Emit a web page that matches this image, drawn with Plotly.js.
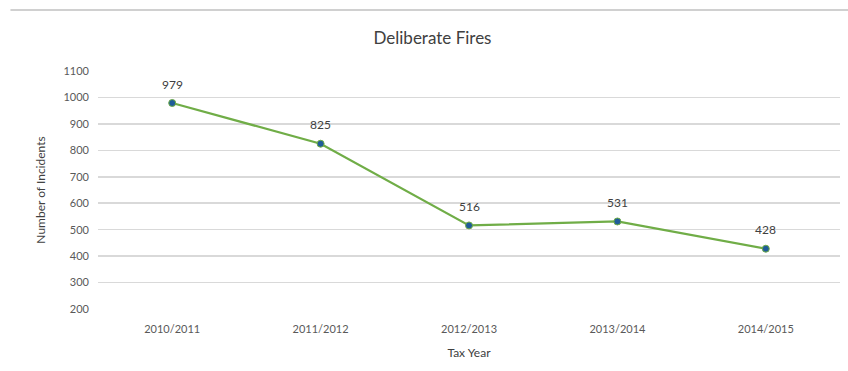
<!DOCTYPE html>
<html>
<head>
<meta charset="utf-8">
<script src="https://cdn.plot.ly/plotly-3.0.1.min.js"></script>
<style>html,body{margin:0;padding:0;background:#fff;}#chart{width:848px;height:371px;}</style>
</head>
<body>
<div id="chart"></div>
<script>
const categories = ["2010/2011", "2011/2012", "2012/2013", "2013/2014", "2014/2015"];
const incidents = [979, 825, 516, 531, 428];
const yTickValues = [200, 300, 400, 500, 600, 700, 800, 900, 1000, 1100];

const font = "Lato, 'Open Sans', 'Liberation Sans', sans-serif";

const trace = {
  x: categories,
  y: incidents,
  type: "scatter",
  mode: "lines+markers",
  line: {color: "#70ad47", width: 2.2},
  marker: {color: "#1f5c99", size: 7, line: {color: "#70ad47", width: 1}},
  cliponaxis: false,
  hoverinfo: "x+y"
};

const labels = categories.map((c, i) => ({
  x: c,
  y: incidents[i],
  xref: "x", yref: "y",
  text: String(incidents[i]),
  showarrow: false,
  yshift: 19,
  font: {family: font, size: 12, color: "#404040"}
}));

const layout = {
  width: 848,
  height: 371,
  margin: {l: 98, r: 8, t: 71, b: 62},
  paper_bgcolor: "#ffffff",
  plot_bgcolor: "#ffffff",
  showlegend: false,
  font: {family: font, color: "#595959", size: 11},
  title: {
    text: "Deliberate Fires",
    font: {family: font, size: 17, color: "#404040"},
    x: 0.51, xanchor: "center",
    y: 0.897, yanchor: "middle"
  },
  xaxis: {
    type: "category",
    range: [-0.5, 4.5],
    showgrid: false,
    showline: false,
    zeroline: false,
    ticks: "",
    ticklabelstandoff: 12,
    tickfont: {family: font, size: 11, color: "#595959"},
    title: {text: "Tax Year", font: {family: font, size: 12, color: "#404040"}, standoff: 14}
  },
  yaxis: {
    range: [200, 1100],
    tickvals: yTickValues,
    showgrid: true,
    gridcolor: "#d9d9d9",
    gridwidth: 1.5,
    showline: false,
    zeroline: false,
    ticks: "",
    ticklabelstandoff: 8,
    tickfont: {family: font, size: 11, color: "#595959"},
    title: {text: "Number of Incidents", font: {family: font, size: 12, color: "#404040"}, standoff: 15}
  },
  annotations: labels,
  shapes: [{
    type: "line",
    xref: "paper", yref: "paper",
    x0: -0.118, x1: 1.02,
    y0: 1.256, y1: 1.256,
    line: {color: "#d0d0d0", width: 2}
  }]
};

Plotly.newPlot("chart", [trace], layout, {displayModeBar: false, staticPlot: true});
</script>
</body>
</html>
